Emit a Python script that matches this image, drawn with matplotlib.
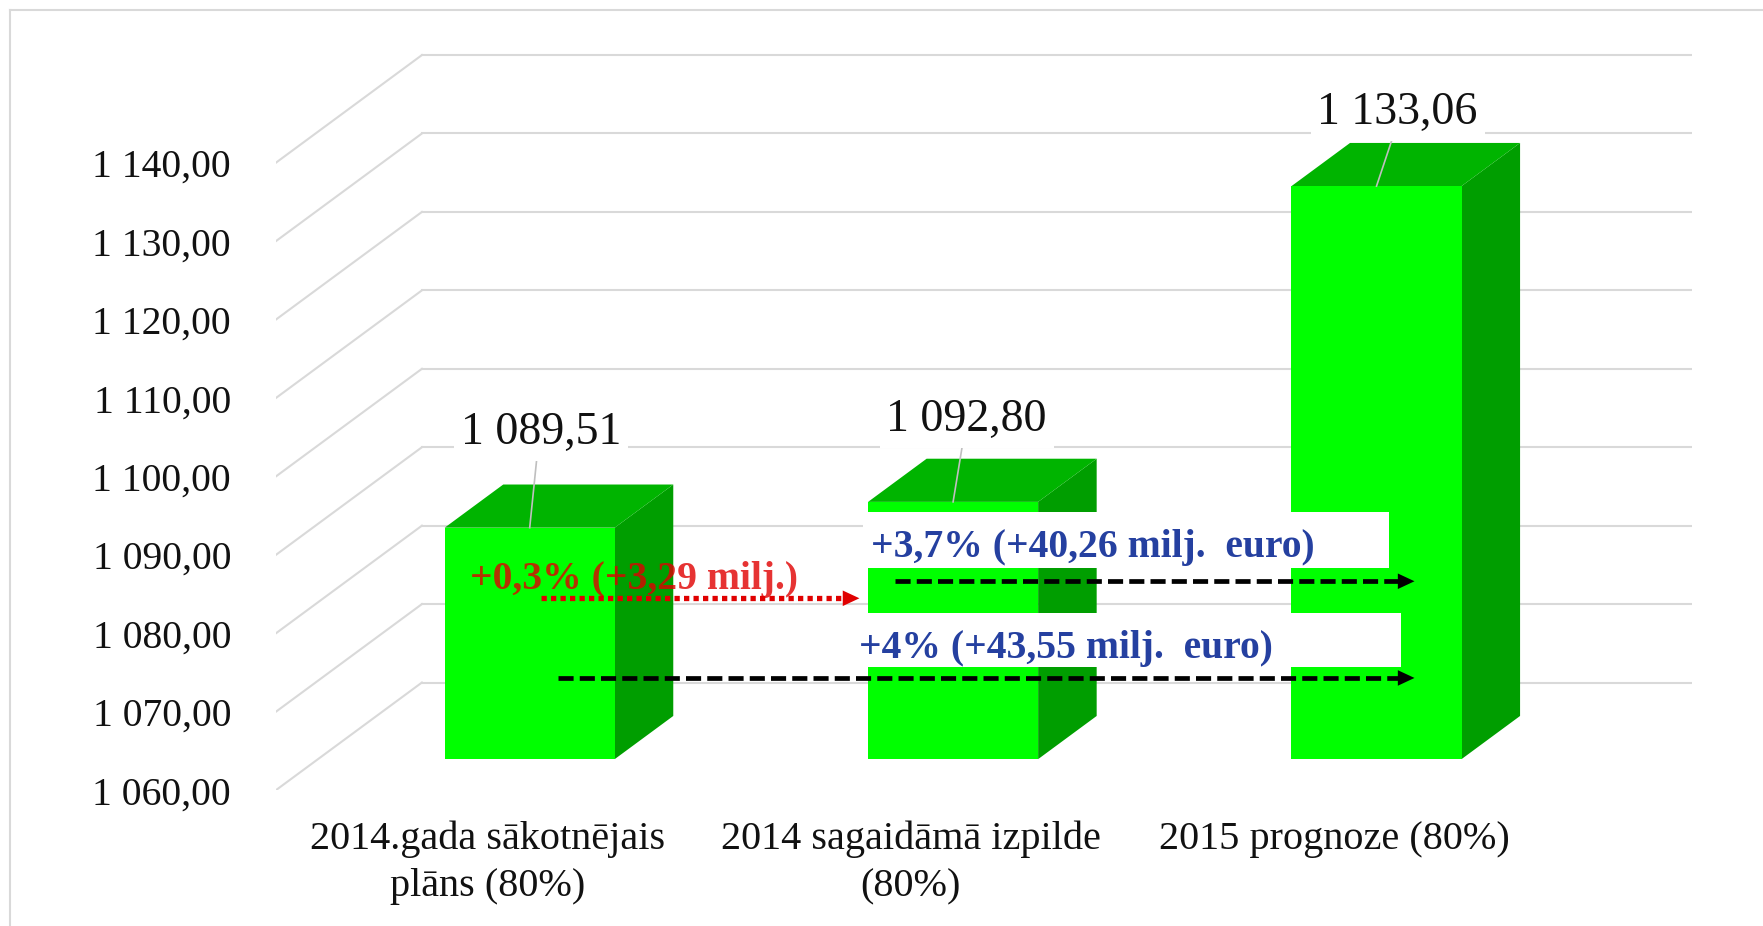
import matplotlib.pyplot as plt
from matplotlib.patches import Polygon, Rectangle
from matplotlib.lines import Line2D

# data
categories = ['2014.gada sākotnējais\nplāns (80%)', '2014 sagaidāmā izpilde\n(80%)', '2015 prognoze (80%)']
values = [1089.51, 1092.80, 1133.06]
value_labels = ['1 089,51', '1 092,80', '1 133,06']
y_ticks = [1060, 1070, 1080, 1090, 1100, 1110, 1120, 1130, 1140]
y_tick_labels = ['1 060,00', '1 070,00', '1 080,00', '1 090,00', '1 100,00',
                 '1 110,00', '1 120,00', '1 130,00', '1 140,00']

red_note = '+0,3% (+3,29 milj.)'
blue_note_1 = '+3,7% (+40,26 milj.  euro)'
blue_note_2 = '+4% (+43,55 milj.  euro)'

base = 1060

# fake 3d geometry (depth of the wall and of the bars, in data units)
DXW, DYW = 0.3457, 13.76
t_front, t_back = 0.29, 0.69
half_w = 0.2008

plt.rcParams['font.family'] = ['Liberation Serif', 'DejaVu Serif']

fig = plt.figure(figsize=(17.63, 9.26), dpi=100)
ax = fig.add_axes([0.1563, 0.1464, 0.8035, 0.7966])
ax.set_xlim(-0.5, 2.5 + DXW)
ax.set_ylim(base, 1154.05)
for s in ax.spines.values():
    s.set_visible(False)

grid_c = '#D9D9D9'
# back wall gridlines and side wall diagonals
for v in y_ticks:
    ax.plot([-0.5 + DXW, 2.5 + DXW], [v + DYW, v + DYW], color=grid_c, lw=1.5, zorder=1)
    ax.plot([-0.5, -0.5 + DXW], [v, v + DYW], color=grid_c, lw=1.5, zorder=1)

fx, fy = t_front * DXW, t_front * DYW
bx, by = t_back * DXW, t_back * DYW
ddx, ddy = bx - fx, by - fy

front_c = '#00FF00'
top_c = '#00B400'
side_c = '#009E00'

for i, v in enumerate(values):
    x0, x1 = i - half_w + fx, i + half_w + fx
    y0, y1 = base + fy, v + fy
    side = [(x1, y0), (x1 + ddx, y0 + ddy), (x1 + ddx, y1 + ddy), (x1, y1)]
    top = [(x0, y1), (x1, y1), (x1 + ddx, y1 + ddy), (x0 + ddx, y1 + ddy)]
    front = [(x0, y0), (x1, y0), (x1, y1), (x0, y1)]
    ax.add_patch(Polygon(side, closed=True, facecolor=side_c, edgecolor='none', zorder=3))
    ax.add_patch(Polygon(top, closed=True, facecolor=top_c, edgecolor='none', zorder=3))
    ax.add_patch(Polygon(front, closed=True, facecolor=front_c, edgecolor='none', zorder=3))

# value labels with leader lines
label_dx = [0.026, 0.032, 0.05]
label_dy = [12.1, 10.5, 9.4]
for i, v in enumerate(values):
    cx = i + fx
    lx, ly = cx + label_dx[i], v + fy + label_dy[i]
    ax.plot([cx, lx - 0.008], [v + fy, ly - 2.6], color='#BFBFBF', lw=1.2, zorder=4)
    ax.text(lx, ly, value_labels[i], ha='center', va='center', fontsize=33, color='#111111',
            zorder=6, bbox=dict(facecolor='white', edgecolor='none', boxstyle='square,pad=0.15'))

# white boxes behind blue notes
ax.add_patch(Rectangle((0.887, 1088.39), 2.129 - 0.887, 1095.56 - 1088.39,
                       facecolor='white', edgecolor='none', zorder=5))
ax.add_patch(Rectangle((0.879, 1075.77), 2.158 - 0.879, 1082.65 - 1075.77,
                       facecolor='white', edgecolor='none', zorder=5))

blue = '#2540A0'
ax.text(0.906, 1091.0, blue_note_1, ha='left', va='center', fontsize=28.5,
        fontweight='bold', color=blue, zorder=7)
ax.text(0.879, 1078.06, blue_note_2, ha='left', va='center', fontsize=28.5,
        fontweight='bold', color=blue, zorder=7)
ax.text(-0.04, 1086.95, red_note, ha='left', va='center', fontsize=28.5,
        fontweight='bold', color='#E00000', alpha=0.8, zorder=7)


def arrow(x_start, x_end, y, color, lw, dashes):
    ax.plot([x_start, x_end - 0.03], [y, y], color=color, lw=lw, dashes=dashes,
            solid_capstyle='butt', dash_capstyle='butt', zorder=8)
    ax.annotate('', xy=(x_end, y), xytext=(x_end - 0.04, y),
                arrowprops=dict(arrowstyle='-|>,head_length=0.6,head_width=0.28',
                                mutation_scale=20, color=color, lw=0,
                                shrinkA=0, shrinkB=0), zorder=8)


arrow(0.126, 0.879, 1084.5, '#E00000', 3.8, (1.0, 0.8))
arrow(0.964, 2.19, 1086.67, 'black', 3.4, (3.2, 1.3))
arrow(0.166, 2.19, 1074.34, 'black', 3.4, (3.2, 1.3))

ax.set_yticks(y_ticks)
ax.set_yticklabels(y_tick_labels, fontsize=28.5, color='#111111')
ax.set_xticks(range(len(categories)))
ax.set_xticklabels(categories, fontsize=29, color='#111111', linespacing=1.35)
ax.tick_params(axis='y', length=0, pad=32)
ax.tick_params(axis='x', length=0, pad=22)

# chart border (only left and top visible)
bx0 = 10 / 1763
by0 = 1 - 10 / 926
fig.add_artist(Line2D([bx0, bx0], [0, by0], color='#D9D9D9', lw=1.5))
fig.add_artist(Line2D([bx0, 1], [by0, by0], color='#D9D9D9', lw=1.5))

fig.savefig('out.png', dpi=100, facecolor='white')
